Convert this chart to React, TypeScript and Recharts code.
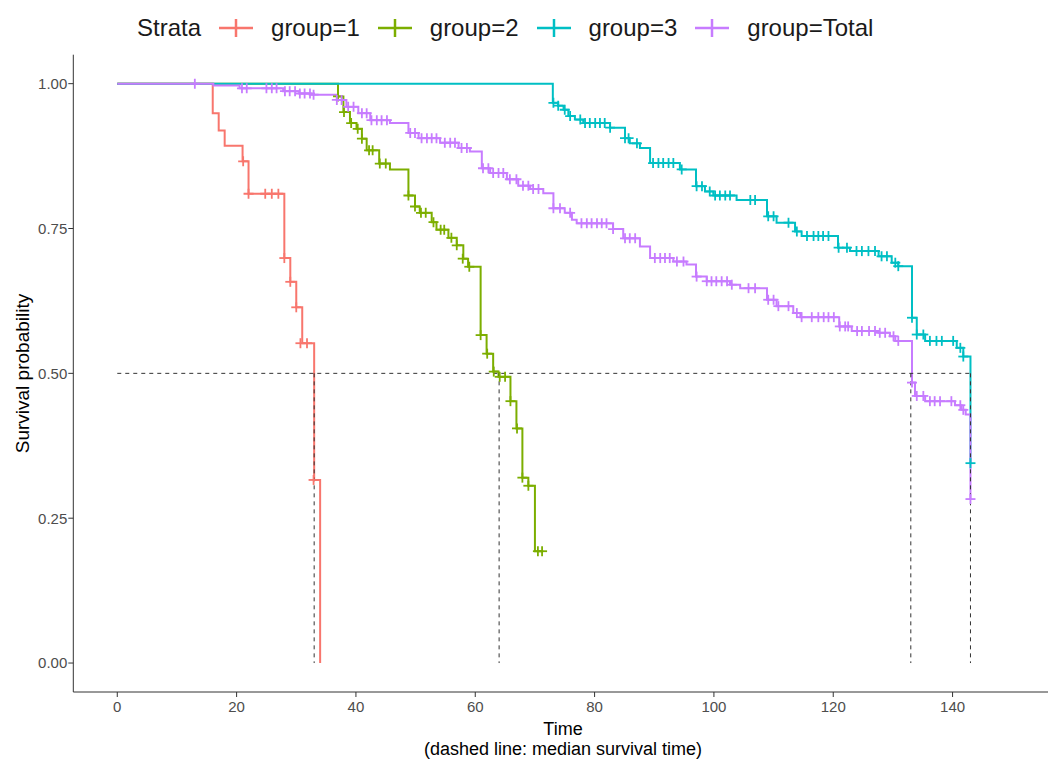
import {
  ComposedChart,
  Line,
  Scatter,
  XAxis,
  YAxis,
  ReferenceLine,
  Label,
} from "recharts";

type Pt = [number, number];

const strata = ["group=1", "group=2", "group=3", "group=Total"];
const strataColors = ["#F8766D", "#7CAE00", "#00BFC4", "#C77CFF"];
const xTicks = [0, 20, 40, 60, 80, 100, 120, 140];
const yTicks = [0, 0.25, 0.5, 0.75, 1];
const medianTimes = [33, 64, 133, 143];

// [time, survival] where the KM curve steps
const group1Steps: Pt[] = [
  [0, 1], [16, 0.949], [17, 0.919], [18, 0.893], [21, 0.866], [22, 0.81],
  [28, 0.699], [29, 0.658], [30, 0.614], [31, 0.552], [33, 0.316], [34, 0],
];
const group1Censors: Pt[] = [
  [21.1, 0.866], [22.0, 0.81], [24.8, 0.81], [25.9, 0.81], [27.0, 0.81],
  [28.0, 0.699], [29.0, 0.658], [30.0, 0.614], [30.7, 0.552], [31.8, 0.552],
  [32.9, 0.316],
];

const group2Steps: Pt[] = [
  [0, 1], [37.0, 0.978], [37.9, 0.951], [39.0, 0.932], [40.1, 0.922],
  [41.0, 0.905], [41.8, 0.885], [43.9, 0.862], [45.7, 0.852], [48.8, 0.807],
  [49.9, 0.788], [50.7, 0.777], [52.7, 0.761], [53.5, 0.748], [55.5, 0.734],
  [56.9, 0.721], [58.0, 0.698], [58.8, 0.684], [60.9, 0.566], [61.9, 0.534],
  [63.0, 0.503], [63.9, 0.494], [65.9, 0.452], [66.9, 0.405], [67.9, 0.32],
  [68.9, 0.306], [70.0, 0.193], [71.4, 0.193],
];
const group2Censors: Pt[] = [
  [37.0, 0.978], [38.0, 0.951], [39.2, 0.932], [40.3, 0.922], [41.0, 0.905],
  [42.2, 0.885], [42.8, 0.885], [44.0, 0.862], [45.0, 0.862], [48.8, 0.807],
  [49.9, 0.788], [50.9, 0.777], [51.7, 0.777], [53.0, 0.761], [54.2, 0.748],
  [54.8, 0.748], [56.0, 0.734], [56.9, 0.721], [57.9, 0.698], [59.0, 0.684],
  [60.9, 0.566], [62.0, 0.534], [63.1, 0.503], [64.1, 0.494], [65.0, 0.494],
  [65.9, 0.452], [67.0, 0.405], [67.9, 0.32], [68.9, 0.306], [70.5, 0.193],
  [71.2, 0.193],
];

const group3Steps: Pt[] = [
  [0, 1], [73.0, 0.967], [73.9, 0.962], [74.8, 0.955], [75.6, 0.944],
  [76.7, 0.938], [78.1, 0.932], [82.6, 0.924], [85.1, 0.906], [85.9, 0.897],
  [87.6, 0.889], [89.3, 0.863], [94.3, 0.852], [97.0, 0.823], [98.5, 0.814],
  [99.9, 0.807], [103.8, 0.799], [108.9, 0.771], [110.5, 0.76], [113.6, 0.745],
  [114.7, 0.737], [120.8, 0.717], [122.8, 0.711], [127.6, 0.702], [129.8, 0.691],
  [130.9, 0.685], [133.2, 0.596], [134.0, 0.567], [135.4, 0.556], [140.7, 0.544],
  [141.8, 0.529], [143.0, 0.345],
];
const group3Censors: Pt[] = [
  [73.1, 0.967], [73.9, 0.962], [75.0, 0.955], [75.9, 0.944], [77.6, 0.938],
  [78.4, 0.932], [79.2, 0.932], [80.1, 0.932], [80.9, 0.932], [81.7, 0.932],
  [82.6, 0.924], [85.1, 0.906], [85.7, 0.906], [87.1, 0.897], [89.8, 0.863],
  [90.7, 0.863], [91.5, 0.863], [92.4, 0.863], [93.2, 0.863], [94.6, 0.852],
  [97.1, 0.823], [98.0, 0.823], [99.3, 0.814], [100.2, 0.807], [101.0, 0.807],
  [101.9, 0.807], [102.7, 0.807], [106.1, 0.799], [106.9, 0.799], [109.1, 0.771],
  [110.0, 0.771], [112.5, 0.76], [113.9, 0.745], [115.6, 0.737], [116.7, 0.737],
  [117.5, 0.737], [118.3, 0.737], [119.2, 0.737], [120.9, 0.717], [122.3, 0.717],
  [123.9, 0.711], [124.8, 0.711], [125.9, 0.711], [127.0, 0.711], [128.1, 0.702],
  [129.0, 0.702], [130.4, 0.691], [130.9, 0.685], [133.2, 0.596], [134.0, 0.567],
  [135.1, 0.567], [136.2, 0.556], [137.3, 0.556], [138.2, 0.556], [140.1, 0.556],
  [141.3, 0.544], [141.8, 0.529], [143.0, 0.345],
];

const totalSteps: Pt[] = [
  [0, 1], [16.1, 0.997], [20.5, 0.992], [27.8, 0.987], [30.5, 0.983],
  [32.5, 0.981], [36.8, 0.972], [38.4, 0.96], [40.4, 0.949], [42.4, 0.937],
  [45.7, 0.932], [48.8, 0.915], [50.5, 0.906], [54.1, 0.898], [57.2, 0.889],
  [59.1, 0.883], [61.1, 0.854], [62.5, 0.846], [65.3, 0.835], [67.2, 0.824],
  [69.2, 0.818], [71.4, 0.811], [73.1, 0.785], [75.0, 0.777], [76.2, 0.765],
  [77.0, 0.759], [83.1, 0.749], [84.8, 0.733], [87.6, 0.719], [89.3, 0.699],
  [93.2, 0.693], [95.4, 0.688], [97.0, 0.667], [98.8, 0.659], [102.7, 0.653],
  [104.4, 0.647], [108.9, 0.627], [110.5, 0.616], [113.3, 0.604], [114.5, 0.597],
  [121.0, 0.581], [123.1, 0.573], [127.6, 0.57], [129.5, 0.564], [130.4, 0.556],
  [133.2, 0.484], [133.7, 0.461], [135.4, 0.452], [140.4, 0.445], [141.5, 0.437],
  [142.2, 0.429], [143.0, 0.283],
];
const totalCensors: Pt[] = [
  [13.0, 1], [20.9, 0.992], [21.7, 0.992], [25.0, 0.992], [25.9, 0.992],
  [26.7, 0.992], [28.1, 0.987], [28.9, 0.987], [29.8, 0.987], [30.6, 0.983],
  [31.4, 0.983], [32.3, 0.983], [32.9, 0.981], [36.8, 0.972], [37.6, 0.972],
  [38.7, 0.96], [39.6, 0.96], [41.0, 0.949], [41.8, 0.949], [42.6, 0.937],
  [43.5, 0.937], [44.3, 0.937], [45.2, 0.937], [49.1, 0.915], [49.9, 0.915],
  [51.0, 0.906], [51.9, 0.906], [52.7, 0.906], [53.5, 0.906], [54.9, 0.898],
  [55.8, 0.898], [56.6, 0.898], [57.7, 0.889], [58.6, 0.889], [61.3, 0.854],
  [62.2, 0.854], [63.0, 0.846], [63.9, 0.846], [64.7, 0.846], [65.8, 0.835],
  [66.9, 0.835], [68.0, 0.824], [68.9, 0.824], [69.7, 0.818], [70.6, 0.818],
  [73.1, 0.785], [74.2, 0.785], [75.9, 0.777], [77.8, 0.759], [78.7, 0.759],
  [79.5, 0.759], [80.4, 0.759], [81.2, 0.759], [82.0, 0.759], [83.1, 0.749],
  [85.1, 0.733], [85.9, 0.733], [86.8, 0.733], [90.1, 0.699], [91.0, 0.699],
  [91.8, 0.699], [92.6, 0.699], [93.8, 0.693], [94.9, 0.693], [97.1, 0.667],
  [98.8, 0.659], [99.6, 0.659], [100.4, 0.659], [101.3, 0.659], [102.2, 0.659],
  [103.0, 0.653], [105.8, 0.647], [106.9, 0.647], [109.1, 0.627], [110.0, 0.627],
  [110.8, 0.616], [112.5, 0.616], [113.9, 0.604], [114.7, 0.597], [116.4, 0.597],
  [117.5, 0.597], [118.4, 0.597], [119.2, 0.597], [120.1, 0.597], [121.1, 0.581],
  [122.0, 0.581], [122.5, 0.581], [124.0, 0.573], [124.8, 0.573], [126.0, 0.573],
  [127.0, 0.573], [127.8, 0.57], [128.7, 0.57], [130.1, 0.564], [130.9, 0.556],
  [133.2, 0.484], [134.0, 0.461], [135.1, 0.461], [136.2, 0.452], [137.0, 0.452],
  [137.9, 0.452], [139.8, 0.452], [141.3, 0.445], [141.8, 0.437], [143.0, 0.283],
];

const toRows = (pts: Pt[]) => pts.map(([t, s]) => ({ t, s }));

const series = [
  { steps: group1Steps, censors: group1Censors },
  { steps: group2Steps, censors: group2Censors },
  { steps: group3Steps, censors: group3Censors },
  { steps: totalSteps, censors: totalCensors },
].map((d, i) => ({
  name: strata[i],
  color: strataColors[i],
  steps: toRows(d.steps),
  censors: toRows(d.censors),
}));

const Plus = ({ cx, cy, color }: { cx?: number; cy?: number; color: string }) => {
  if (cx == null || cy == null) return null;
  return (
    <g stroke={color} strokeWidth={1.8}>
      <line x1={cx - 5} x2={cx + 5} y1={cy} y2={cy} />
      <line x1={cx} x2={cx} y1={cy - 5} y2={cy + 5} />
    </g>
  );
};

const LegendKey = ({ color }: { color: string }) => (
  <svg width={34} height={24} style={{ display: "block" }}>
    <line x1={0} x2={34} y1={12} y2={12} stroke={color} strokeWidth={2.5} />
    <line x1={17} x2={17} y1={3} y2={21} stroke={color} strokeWidth={2.5} />
  </svg>
);

const XTitle = () => (
  <g fill="#000" fontSize={18}>
    <text x={563} y={735} textAnchor="middle">Time</text>
    <text x={563} y={755} textAnchor="middle">(dashed line: median survival time)</text>
  </g>
);

const YTitle = () => (
  <text
    x={29}
    y={373.5}
    transform="rotate(-90, 29, 373.5)"
    textAnchor="middle"
    fill="#000"
    fontSize={19}
  >
    Survival probability
  </text>
);

export default function App() {
  const maxMedian = Math.max(...medianTimes);
  return (
    <div
      style={{
        position: "relative",
        width: 1048,
        height: 762,
        overflow: "hidden",
        background: "#fff",
        fontFamily: "'Liberation Sans', Arial, sans-serif",
      }}
    >
      <style>{"body{margin:0}"}</style>
      <div
        style={{
          position: "absolute",
          top: 14,
          left: 137,
          display: "flex",
          alignItems: "center",
          height: 28,
          fontSize: 24,
          color: "#1a1a1a",
          whiteSpace: "nowrap",
        }}
      >
        <span>Strata</span>
        {series.map((s) => (
          <div key={s.name} style={{ display: "flex", alignItems: "center" }}>
            <div style={{ marginLeft: 18, marginRight: 18 }}>
              <LegendKey color={s.color} />
            </div>
            <span>{s.name}</span>
          </div>
        ))}
      </div>
      <ComposedChart
        width={1056}
        height={762}
        margin={{ top: 54.7, right: 2, bottom: 40, left: 0 }}
      >
        <XAxis
          type="number"
          dataKey="t"
          domain={[-7.37, 157]}
          ticks={xTicks}
          allowDataOverflow
          height={30}
          tickSize={5}
          tickMargin={4}
          stroke="#333"
          tick={{ fill: "#4D4D4D", fontSize: 15 }}
        >
          <Label content={XTitle} />
        </XAxis>
        <YAxis
          type="number"
          domain={[-0.05, 1.05]}
          ticks={yTicks}
          allowDataOverflow
          width={73.3}
          tickSize={5}
          tickMargin={1}
          stroke="#333"
          tick={{ fill: "#4D4D4D", fontSize: 15 }}
          tickFormatter={(v: number) => v.toFixed(2)}
        >
          <Label content={YTitle} />
        </YAxis>
        {series.map((s) => [
          <Line
            key={s.name + "-line"}
            data={s.steps}
            dataKey="s"
            type="stepAfter"
            stroke={s.color}
            strokeWidth={2}
            dot={false}
            activeDot={false}
            isAnimationActive={false}
          />,
          <Scatter
            key={s.name + "-cens"}
            data={s.censors}
            dataKey="s"
            isAnimationActive={false}
            shape={(p: any) => <Plus cx={p.cx} cy={p.cy} color={s.color} />}
          />,
        ])}
        <ReferenceLine
          segment={[
            { x: 0, y: 0.5 },
            { x: maxMedian, y: 0.5 },
          ]}
          stroke="#333"
          strokeDasharray="4 4"
        />
        {medianTimes.map((m) => (
          <ReferenceLine
            key={m}
            segment={[
              { x: m, y: 0.5 },
              { x: m, y: 0 },
            ]}
            stroke="#333"
            strokeDasharray="4 4"
          />
        ))}
      </ComposedChart>
    </div>
  );
}
